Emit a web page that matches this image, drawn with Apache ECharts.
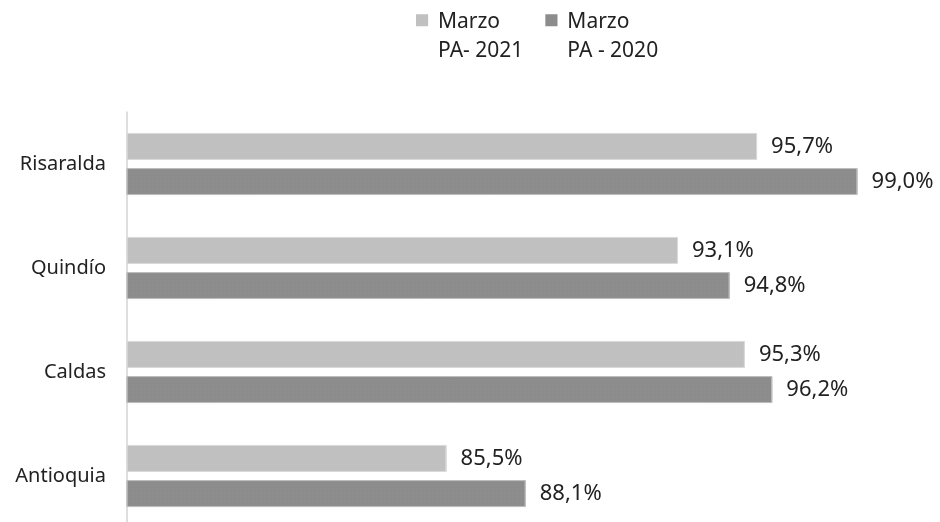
<!DOCTYPE html>
<html>
<head>
<meta charset="utf-8">
<script src="https://cdn.jsdelivr.net/npm/echarts@6/dist/echarts.min.js"></script>
<style>html,body{margin:0;padding:0;background:#fff;overflow:hidden}#c{width:940px;height:530px}</style>
</head>
<body>
<div id="c"></div>
<script>
const categories = ['Antioquia', 'Caldas', 'Quindío', 'Risaralda'];
const seriesNames = ['Marzo\nPA- 2021', 'Marzo\nPA - 2020'];
const values2021 = [85.5, 95.3, 93.1, 95.7];
const values2020 = [88.1, 96.2, 94.8, 99.0];

const FONT = "'Noto Sans', sans-serif";
const chart = echarts.init(document.getElementById('c'));
const fmt = p => p.value.toFixed(1).replace('.', ',') + '%';
const iconPath = 'path://M0,0L0.01,0M0,1.2L10,1.2L10,11.2L0,11.2ZM0,40L14,40';
const decal = { symbol: 'rect', symbolSize: 0.5, color: 'rgba(255,255,255,0.10)', dashArrayX: [2, 2], dashArrayY: [2, 2], rotation: 0 };
chart.setOption({
  animation: false,
  textStyle: { fontFamily: FONT },
  legend: {
    top: 8,
    left: 416,
    padding: 0,
    itemGap: 22,
    itemWidth: 17,
    itemHeight: 52,
    icon: iconPath,
    itemStyle: { borderWidth: 0 },
    textStyle: { fontSize: 21, color: '#222', lineHeight: 29, fontFamily: FONT },
    data: seriesNames
  },
  grid: { left: 127, top: 112, height: 416, width: 761, containLabel: false },
  xAxis: {
    type: 'value', min: 75, max: 100,
    show: false
  },
  yAxis: {
    type: 'category',
    data: categories,
    axisLine: { show: true, lineStyle: { color: '#d4d4d4', width: 1.5 } },
    axisTick: { show: false },
    axisLabel: { fontSize: 20, color: '#222', margin: 21, fontFamily: FONT }
  },
  series: [
    {
      name: seriesNames[0], type: 'bar', data: values2021,
      barWidth: 27, barGap: '30%',
      itemStyle: { color: '#c0c0c0', borderColor: '#dadada', borderWidth: 1, decal: decal },
      label: { show: true, position: 'right', distance: 14, formatter: fmt, fontSize: 22, color: '#222', fontFamily: FONT }
    },
    {
      name: seriesNames[1], type: 'bar', data: values2020,
      barWidth: 27, barGap: '30%',
      itemStyle: { color: '#8c8c8c', borderColor: '#bdbdbd', borderWidth: 1, decal: decal },
      label: { show: true, position: 'right', distance: 14, formatter: fmt, fontSize: 22, color: '#222', fontFamily: FONT }
    }
  ]
});
</script>
</body>
</html>
